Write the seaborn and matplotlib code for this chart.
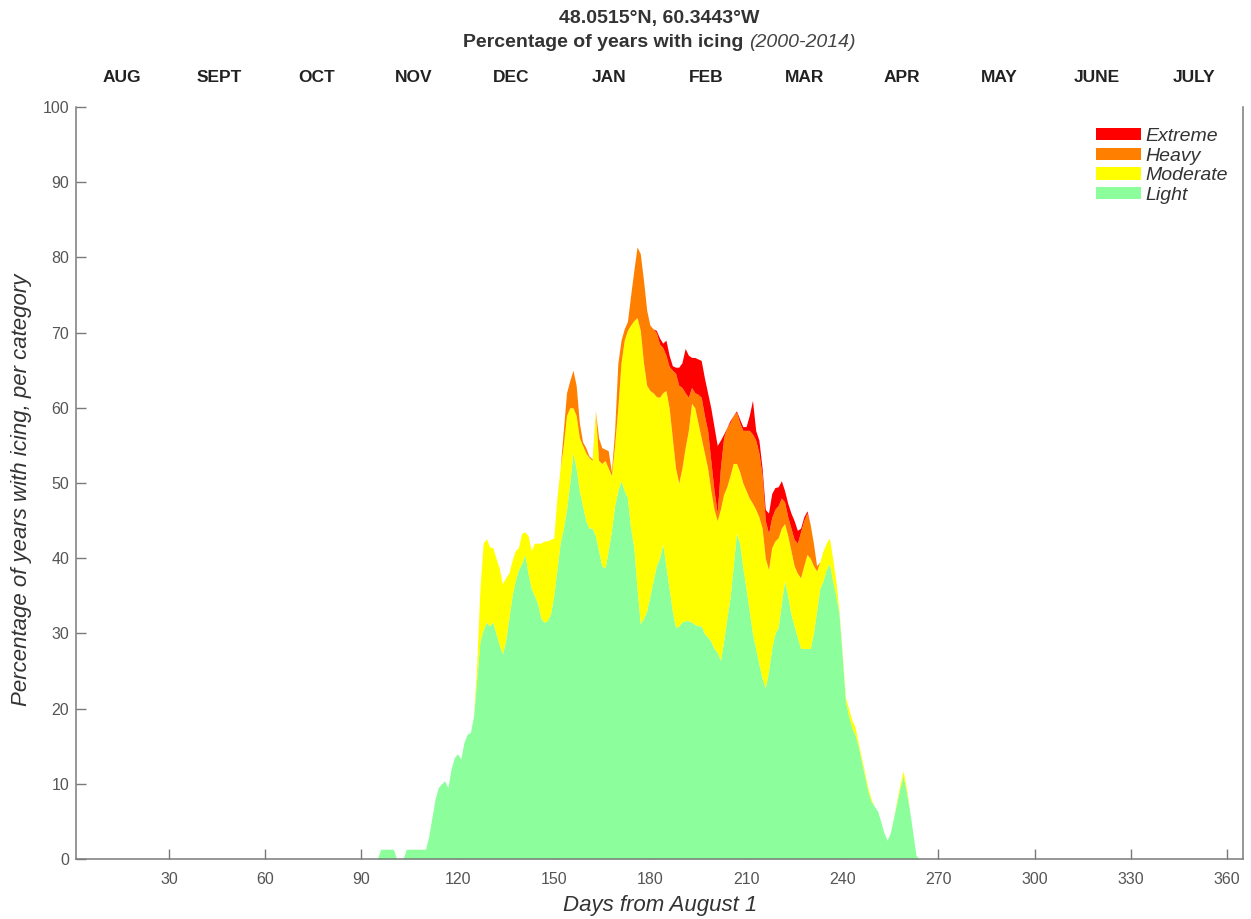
import numpy as np
import matplotlib
matplotlib.use("Agg")
import matplotlib.pyplot as plt
from matplotlib.patches import Patch
import seaborn as sns

# percentage of years with icing, per category, one value per day (days from August 1)
first_day = 94
last_day = 265

light = [
    0, 0, 1.3, 1.3, 1.3, 1.3, 1.3,                              # 94-100
    0, 0, 0, 1.3, 1.3, 1.3, 1.3, 1.3, 1.3, 1.3,                 # 101-110
    3, 5.5, 8, 9.5, 10, 10.4, 9.5, 12, 13.5, 14,                # 111-120
    13.3, 15.5, 16.6, 16.8, 19, 24, 29, 30.5, 31.5, 31,         # 121-130
    31.5, 30, 28.5, 27.3, 29, 32, 35, 37, 38.5, 39.3,           # 131-140
    40.5, 38, 36, 35, 34, 32, 31.5, 31.7, 32.6, 35,             # 141-150
    38.5, 42, 44, 46.5, 50, 54, 52, 49, 47, 45,                 # 151-160
    44, 44, 43, 41, 39, 38.7, 41, 43.7, 47, 49,                 # 161-170
    50.3, 49, 48, 44, 41.4, 36, 31.3, 32, 33, 35,               # 171-180
    37, 39, 40, 41.9, 39, 36, 33, 30.8, 31, 31.5,               # 181-190
    31.7, 31.7, 31.5, 31.2, 31, 31, 30, 29.5, 29, 28,           # 191-200
    27.5, 26.4, 29, 32, 34.8, 39, 43.3, 42, 38.7, 36,           # 201-210
    33, 30, 28, 26, 24, 22.8, 25, 28, 30, 30.8,                 # 211-220
    34, 37, 35, 32.6, 31, 29.5, 28, 28, 28, 28,                 # 221-230
    30, 33, 36, 37, 38.5, 39.3, 37, 35, 32.6, 27,               # 231-240
    21, 19, 17.5, 16.5, 15, 13, 11, 9, 7.7, 7,                  # 241-250
    6.4, 5, 3.5, 2.5, 3.5, 5.5, 7.5, 9.5, 11, 9,                # 251-260
    6.5, 3.5, 0.5, 0, 0,                                        # 261-265
]

moderate_start = 126
moderate = [
    2, 7, 11.5, 11.1, 10.5,                                     # 126-130
    9.9, 10, 10.2, 9.3, 8.4, 6, 4.7, 4, 2.9, 4,                 # 131-140
    3, 5, 5, 7, 8, 10, 10.8, 10.6, 9.9, 7.7,                    # 141-150
    9.5, 10, 11, 12.5, 10, 6, 7, 7, 8, 9,                       # 151-160
    9.4, 9, 16.5, 12, 13.6, 14.3, 11, 7.3, 8, 11,               # 161-170
    15.7, 20, 22.3, 27, 30.2, 36, 39, 34, 30, 27.3,             # 171-180
    25, 22.5, 21.4, 20.1, 23.3, 24, 23, 21.2, 19, 20.5,         # 181-190
    23, 25.3, 29.1, 28.8, 27, 25, 24, 22.5, 20, 18.5,           # 191-200
    17.5, 20.1, 19.5, 17.5, 16.2, 13.6, 9.3, 9.5, 11.3, 13,     # 201-210
    15, 17.3, 18.5, 19.5, 20, 17.2, 13.5, 13.4, 12.3, 11.9,     # 211-220
    10, 7.6, 8, 8.4, 8, 8.5, 9.4, 11, 12.5, 12,                 # 221-230
    9, 5.3, 3.5, 4, 3.5, 3.4, 3, 2, 0.4, 0.3,                   # 231-240
    0.5, 1, 1, 1, 0.5, 0.5, 0.5, 0.5, 0.3, 0,                   # 241-250
    0, 0, 0, 0, 0, 0, 0.3, 0.5, 0.7, 0.5,                       # 251-260
    0, 0,                                                       # 261-262
]

heavy_start = 153
heavy = [
    2, 3, 3.6, 5, 4, 2, 0.5, 0.7,                               # 153-160
    0.2, 0.2, 0.1, 3, 2.1, 1.5, 2.3, 0.5, 2, 5.9,               # 161-170
    3, 1.5, 1.2, 4, 6.7, 9.4, 10.2, 11, 10, 8.7,                # 171-180
    8.5, 8.5, 7.1, 6, 4.7, 5.5, 9, 12.6, 13, 10.7,              # 181-190
    7.3, 4.4, 2.1, 2, 3.8, 5.4, 5, 5, 4, 2.5,                   # 191-200
    1, 5.5, 7.5, 7.9, 7, 6.4, 6.8, 6.5, 7, 8,                   # 201-210
    9, 9.2, 9.2, 8.5, 7, 5, 4.8, 4, 4.2, 4.3,                   # 211-220
    4, 2.9, 2.5, 3, 3.5, 4, 6.1, 6, 5.5, 4.5,                   # 221-230
    3, 0.7,                                                     # 231-232
]

extreme_start = 182
extreme = [
    0.3, 0.8, 0.6, 2, 1.5, 0.6, 0.8, 2.4, 3.3,                  # 182-190
    5.9, 5.6, 4, 4.7, 4.7, 4.9, 5, 5, 7, 8.5,                   # 191-200
    9, 3.7, 0.5, 0, 0.3, 0, 0.2, 0.5, 0.5, 0.5,                 # 201-210
    2, 4.5, 1.3, 1.7, 1, 1.5, 2.7, 3.2, 2.9, 2.5,               # 211-220
    2.3, 1.5, 1.8, 2, 2.5, 1.7, 0.5, 0.5, 0.3, 0,               # 221-230
    0,                                                          # 231
]

categories = ["Light", "Moderate", "Heavy", "Extreme"]
colors = ["#8CFF9C", "#FFFF00", "#FF8000", "#FF0000"]
month_names = ["AUG", "SEPT", "OCT", "NOV", "DEC", "JAN",
               "FEB", "MAR", "APR", "MAY", "JUNE", "JULY"]
station = "48.0515\u00b0N, 60.3443\u00b0W"
subtitle = "Percentage of years with icing "
period = "(2000-2014)"


def padded(start, values, days):
    out = np.zeros(len(days))
    i = start - days[0]
    out[i:i + len(values)] = values
    return out


days = np.arange(first_day, last_day + 1)
series = [
    padded(first_day, light, days),
    padded(moderate_start, moderate, days),
    padded(heavy_start, heavy, days),
    padded(extreme_start, extreme, days),
]

sns.set_theme(style="white")
plt.rcParams["font.family"] = ["Liberation Sans", "DejaVu Sans"]

W, H = 1251, 919
fig = plt.figure(figsize=(W / 100, H / 100), dpi=100)
ax = fig.add_axes([76 / W, 1 - 859 / H, (1243 - 76) / W, (859 - 107) / H])

ax.stackplot(days, *series, colors=colors, linewidth=0, antialiased=True)

ax.set_xlim(1, 365)
ax.set_ylim(0, 100)
ax.set_xticks(np.arange(30, 361, 30))
ax.set_yticks(np.arange(0, 101, 10))

grey = "#7a7a7a"
for side in ["left", "bottom", "right"]:
    ax.spines[side].set_color(grey)
    ax.spines[side].set_linewidth(1.1)
ax.spines["top"].set_visible(False)
ax.tick_params(axis="both", direction="in", length=7.5, width=1.0, color=grey,
               labelsize=11.5, labelcolor="#555555", bottom=True, left=True)
ax.tick_params(axis="x", pad=9.5)
ax.tick_params(axis="y", pad=5)

# month names along the top
top = ax.secondary_xaxis("top")
top.set_xticks((np.arange(12) + 0.5) * 365 / 12)
top.set_xticklabels(month_names, fontsize=12.5, fontweight="bold", color="#222222")
top.tick_params(length=0, pad=16)
top.spines["top"].set_visible(False)

handles = [Patch(facecolor=c, edgecolor="none", label=l)
           for c, l in zip(colors, categories)][::-1]
leg = ax.legend(handles=handles, loc="upper left", bbox_to_anchor=(0.874, 0.972),
                frameon=False, prop={"size": 14, "style": "italic"},
                handlelength=2.3, handleheight=0.6, labelspacing=0.13,
                handletextpad=0.25, borderpad=0, borderaxespad=0)
for t in leg.get_texts():
    t.set_color("#333333")

fig.text(659 / W, 1 - 18 / H, station, ha="center", va="center",
         fontsize=14, fontweight="bold", color="#333333")

# second title line: bold part followed by the italic period, centred together
base_y = 1 - 47 / H
t1 = fig.text(0, base_y, subtitle, ha="left", va="baseline",
              fontsize=14, fontweight="bold", color="#333333")
t2 = fig.text(0, base_y, period, ha="left", va="baseline",
              fontsize=14, fontstyle="italic", color="#444444")
renderer = fig.canvas.get_renderer()
w1 = t1.get_window_extent(renderer).width
w2 = t2.get_window_extent(renderer).width
x0 = 659 - (w1 + w2) / 2
t1.set_x(x0 / W)
t2.set_x((x0 + w1) / W)

fig.text(22 / W, 1 - 490 / H, "Percentage of years with icing, per category",
         rotation=90, ha="center", va="center", fontsize=16, fontstyle="italic",
         color="#333333")
fig.text(660 / W, 1 - 905 / H, "Days from August 1", ha="center", va="center",
         fontsize=16, fontstyle="italic", color="#333333")

fig.savefig("out.png", dpi=100)
